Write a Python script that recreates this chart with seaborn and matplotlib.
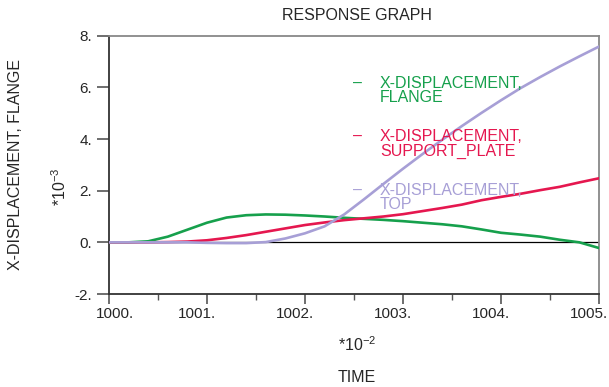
import pandas as pd
import matplotlib
matplotlib.use("Agg")
import matplotlib.pyplot as plt
import matplotlib.transforms as mtransforms
import seaborn as sns

# time axis (*10^-2) and responses (*10^-3)
time = [1000.0, 1000.2, 1000.4, 1000.6, 1000.8, 1001.0, 1001.2, 1001.4, 1001.6,
        1001.8, 1002.0, 1002.2, 1002.4, 1002.6, 1002.8, 1003.0, 1003.2, 1003.4,
        1003.6, 1003.8, 1004.0, 1004.2, 1004.4, 1004.6, 1004.8, 1005.0]

flange = [0.0, 0.0, 0.04, 0.22, 0.49, 0.76, 0.96, 1.05, 1.08,
          1.07, 1.04, 1.00, 0.95, 0.91, 0.87, 0.82, 0.76, 0.70,
          0.62, 0.50, 0.37, 0.30, 0.22, 0.10, 0.00, -0.22]

support_plate = [0.0, 0.0, 0.0, 0.01, 0.03, 0.08, 0.17, 0.28, 0.41,
                 0.54, 0.67, 0.77, 0.86, 0.93, 1.00, 1.09, 1.21, 1.33,
                 1.46, 1.63, 1.76, 1.88, 2.02, 2.15, 2.32, 2.48]

top = [0.0, 0.0, 0.0, 0.0, 0.0, -0.02, -0.03, -0.03, 0.01,
       0.15, 0.35, 0.62, 1.08, 1.66, 2.26, 2.85, 3.42, 3.97,
       4.50, 5.01, 5.50, 5.97, 6.40, 6.81, 7.20, 7.58]

labels = ["X-DISPLACEMENT,\nFLANGE", "X-DISPLACEMENT,\nSUPPORT_PLATE", "X-DISPLACEMENT,\nTOP"]
colors = ["#16a04c", "#e5174f", "#a79fd6"]
y_ticks = [-2, 0, 2, 4, 6, 8]
x_ticks = [1000, 1001, 1002, 1003, 1004, 1005]

df = pd.DataFrame({"time": time * 3,
                   "value": flange + support_plate + top,
                   "series": [labels[0]] * len(time) + [labels[1]] * len(time) + [labels[2]] * len(time)})

sns.set_style("ticks")
plt.rcParams["font.family"] = ["Liberation Sans", "DejaVu Sans"]

fig = plt.figure(figsize=(6.09, 3.87), dpi=100)
ax = fig.add_axes([109 / 609, 1 - 294 / 387, 490 / 609, 258.3 / 387])

ax.axhline(0, color="black", lw=0.9, zorder=1)
sns.lineplot(data=df, x="time", y="value", hue="series", palette=colors,
             linewidth=1.9, legend=False, ax=ax, zorder=3)

ax.set_xlim(1000, 1005)
ax.set_ylim(-2, 8)
ax.set_xticks(x_ticks)
ax.set_xticklabels([f"{t}." for t in x_ticks])
ax.set_xticks([t + 0.5 for t in x_ticks[:-1]], minor=True)
ax.set_yticks(y_ticks)
ax.set_yticklabels([f"{v}." for v in y_ticks])
ax.tick_params(axis="both", which="major", direction="out", labelsize=11, width=1.2, color="#555555")
ax.tick_params(axis="y", which="major", length=9, pad=3)
ax.tick_params(axis="x", which="major", length=7, pad=2)
ax.tick_params(axis="x", which="minor", direction="out", length=4, width=1.0, color="#555555")
ax.set_xlabel("")
ax.set_ylabel("")

# the original shifts the x labels left of their ticks, except the first one
for i, lab in enumerate(ax.get_xticklabels()):
    dx = 6 / 100 if i == 0 else -10 / 100
    lab.set_transform(lab.get_transform() + mtransforms.ScaledTranslation(dx, 0, fig.dpi_scale_trans))

for side in ["left", "bottom"]:
    ax.spines[side].set_color("#333333")
    ax.spines[side].set_linewidth(1.3)
for side in ["top", "right"]:
    ax.spines[side].set_visible(True)
    ax.spines[side].set_color("#888888")
    ax.spines[side].set_linewidth(1.3)

# legend drawn as coloured text like the original
legend_tops = [0.845, 0.638, 0.43]
for lab, col, yy in zip(labels, colors, legend_tops):
    ax.text(0.497, yy, "\u2013", color=col, fontsize=11.5, va="top", transform=ax.transAxes)
    ax.text(0.553, yy, lab, color=col, fontsize=11.5, va="top", linespacing=0.95,
            transform=ax.transAxes, zorder=4)

fig.text(357 / 609, 1 - 16 / 387, "RESPONSE GRAPH", ha="center", va="center", fontsize=11.5)
fig.text(16 / 609, 1 - 165 / 387, "X-DISPLACEMENT, FLANGE", rotation=90,
         ha="center", va="center", fontsize=11.5)
fig.text(60 / 609, 1 - 187 / 387, r"*10$^{\mathregular{-3}}$", rotation=90,
         ha="center", va="center", fontsize=11.5)
fig.text(357 / 609, 1 - 345 / 387, r"*10$^{\mathregular{-2}}$",
         ha="center", va="center", fontsize=11.5)
fig.text(357 / 609, 1 - 378 / 387, "TIME", ha="center", va="center", fontsize=11.5)

fig.savefig("out.png", dpi=100)
